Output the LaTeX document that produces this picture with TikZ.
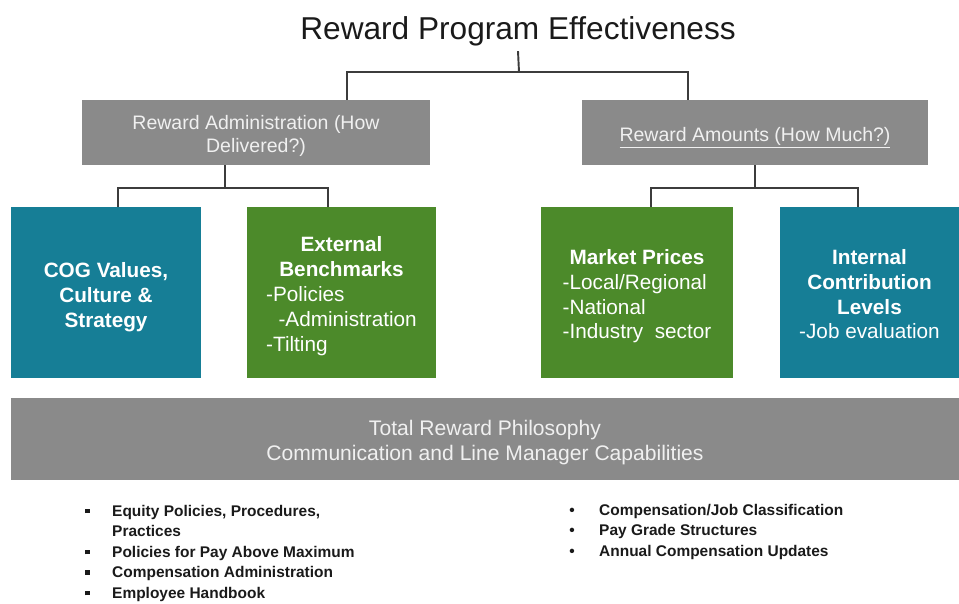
\documentclass[tikz,border=0pt]{standalone}
\usepackage{fontspec}
\setmainfont{Liberation Sans}
\usepackage{tikz}
\usepackage{color}
\definecolor{cogteal}{RGB}{22,126,150}
\definecolor{benchgreen}{RGB}{76,138,42}
\definecolor{boxgrey}{RGB}{138,138,138}
\definecolor{boxtext}{RGB}{240,240,240}
\definecolor{linegrey}{RGB}{60,60,60}
\definecolor{titletext}{RGB}{26,26,26}
\begin{document}
\begin{tikzpicture}[x=0.02cm, y=-0.02cm,
  grey/.style = {fill=boxgrey, text=boxtext, inner sep=0pt},
  tile/.style = {inner sep=0pt, minimum width=3.8cm, minimum height=3.42cm, text=white, font=\fontsize{11.8}{14.2}\selectfont},
  link/.style = {draw=linegrey, line width=1.1pt},
  list/.style = {inner sep=0pt, anchor=base west, text=titletext, font=\bfseries\fontsize{8.8}{11.7}\selectfont}]
\useasboundingbox (0,0) rectangle (959,604);
\node[inner sep=0pt, text=titletext, font=\fontsize{18}{22}\selectfont](title) at (518,31) {Reward Program Effectiveness};
\node[grey, minimum width=6.96cm, minimum height=1.3cm, font=\fontsize{11.1}{13}\selectfont](admin) at (256,132.5) {\raisebox{-2.3pt}[\height][\depth]{\begin{tabular}{@{}c@{}}Reward Administration (How\\Delivered?)\end{tabular}}};
\node[grey, minimum width=6.92cm, minimum height=1.3cm, font=\fontsize{11.1}{13}\selectfont](amount) at (755,132.5) {\raisebox{-3pt}[\height][\depth]{\underline{Reward Amounts (How Much?)}}};
\node[tile, fill=cogteal, font=\bfseries\fontsize{11.8}{14.2}\selectfont](cog) at (106,292.5) {\raisebox{-2.8pt}[\height][\depth]{\begin{tabular}{@{}c@{}}COG Values,\\Culture \&\\Strategy\end{tabular}}};
\node[tile, fill=benchgreen, minimum width=3.78cm](bench) at (341.5,292.5) {\raisebox{-2.3pt}[\height][\depth]{\begin{tabular}{@{}l@{}}\multicolumn{1}{@{}c@{}}{\bfseries External}\\ \multicolumn{1}{@{}c@{}}{\bfseries Benchmarks}\\ -Policies\\ \hspace*{7pt}-Administration\\ -Tilting\end{tabular}}};
\node[tile, fill=benchgreen, minimum width=3.84cm](market) at (637,292.5) {\raisebox{-2.3pt}[\height][\depth]{\begin{tabular}{@{}l@{}}\multicolumn{1}{@{}c@{}}{\bfseries Market Prices}\\ -Local/Regional\\ -National\\ -Industry\ \ sector\end{tabular}}};
\node[tile, fill=cogteal, minimum width=3.58cm](internal) at (869.5,292.5) {\raisebox{-2.3pt}[\height][\depth]{\begin{tabular}{@{}l@{}}\multicolumn{1}{@{}c@{}}{\bfseries Internal}\\ \multicolumn{1}{@{}c@{}}{\bfseries Contribution}\\ \multicolumn{1}{@{}c@{}}{\bfseries Levels}\\ -Job evaluation\end{tabular}}};
\node[grey, minimum width=18.96cm, minimum height=1.64cm, font=\fontsize{12}{14.2}\selectfont](philosophy) at (485,439) {\raisebox{-2.3pt}[\height][\depth]{\begin{tabular}{@{}c@{}}Total Reward Philosophy\\Communication and Line Manager Capabilities\end{tabular}}};
\coordinate (split) at (519,72); \coordinate (la) at (347,72); \coordinate (ra) at (688,72);
\coordinate (lb) at (225,188); \coordinate (lb1) at (118,188); \coordinate (lb2) at (328,188);
\coordinate (rb) at (755,188); \coordinate (rb1) at (651,188); \coordinate (rb2) at (858,188);
\draw[link] (title.south) ++(0,5) -- (split);
\draw[link] (admin.north -| la) -- (la) -- (ra) -- (amount.north -| ra);
\draw[link] (admin.south -| lb) -- (lb); \draw[link] (cog.north -| lb1) -- (lb1) -- (lb2) -- (bench.north -| lb2);
\draw[link] (amount.south -| rb) -- (rb); \draw[link] (market.north -| rb1) -- (rb1) -- (rb2) -- (internal.north -| rb2);
\node[list](adminlist) at (85,516) {\begin{tabular}[t]{@{}p{15.3pt}@{}l@{}}\rule[1.6pt]{2.6pt}{2.6pt} & Equity Policies, Procedures,\\ & Practices\\ \rule[1.6pt]{2.6pt}{2.6pt} & Policies for Pay Above Maximum\\ \rule[1.6pt]{2.6pt}{2.6pt} & Compensation\ Administration\\ \rule[1.6pt]{2.6pt}{2.6pt} & Employee Handbook\end{tabular}};
\node[list](amountlist) at (569,515) {\begin{tabular}[t]{@{}p{17pt}@{}l@{}}\textbullet & Compensation/Job Classification\\ \textbullet & Pay Grade Structures\\ \textbullet & Annual Compensation Updates\end{tabular}};
\end{tikzpicture}
\end{document}
